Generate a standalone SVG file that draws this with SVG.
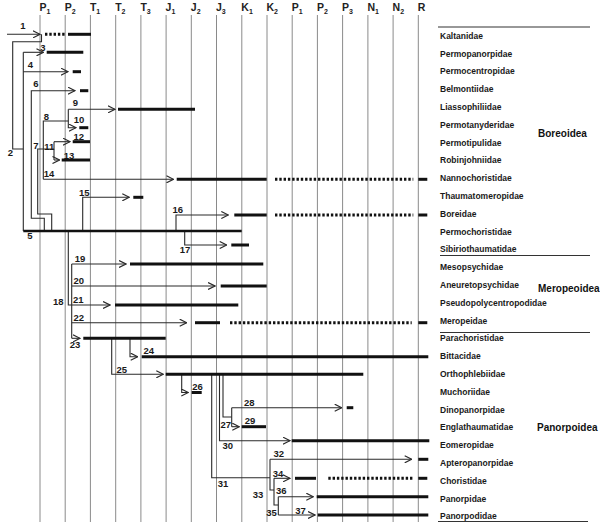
<svg xmlns="http://www.w3.org/2000/svg" width="600" height="525" viewBox="0 0 600 525">
<style>
.grid line{stroke:#8a8a8a;stroke-width:1}
.hd{font-family:"Liberation Sans",Arial,sans-serif;font-weight:bold;font-size:10.5px;fill:#222}
.hd tspan{font-size:7px}
.fam{font-family:"Liberation Sans",Arial,sans-serif;font-weight:bold;font-size:8.5px;fill:#1a1a1a}
.grp{font-family:"Liberation Sans",Arial,sans-serif;font-weight:bold;font-size:10px;fill:#111}
.num{font-family:"Liberation Sans",Arial,sans-serif;font-weight:bold;font-size:9.5px;fill:#1a1a1a;text-anchor:middle}
.c{fill:none;stroke:#2a2a2a;stroke-width:1.1}
.a{marker-end:url(#ah)}
.bar{stroke:#111;stroke-width:3;fill:none}
.dot{stroke:#111;stroke-width:3;fill:none;stroke-dasharray:2.4 1.9}
.sep{stroke:#333;stroke-width:1.1}
</style>
<defs>
<marker id="ah" viewBox="0 0 8 8" markerUnits="userSpaceOnUse" markerWidth="8" markerHeight="8" refX="7.5" refY="4" orient="auto">
<path d="M0.5,0.5 L7.5,4 L0.5,7.5" fill="none" stroke="#2a2a2a" stroke-width="1.2"/>
</marker>
</defs>
<rect width="600" height="525" fill="#fff"/>
<g id="timescale" class="grid">
<line x1="40" y1="15" x2="40" y2="522"/>
<line x1="65.2" y1="15" x2="65.2" y2="522"/>
<line x1="90.4" y1="15" x2="90.4" y2="522"/>
<line x1="115.7" y1="15" x2="115.7" y2="522"/>
<line x1="140.9" y1="15" x2="140.9" y2="522"/>
<line x1="166.1" y1="15" x2="166.1" y2="522"/>
<line x1="191.3" y1="15" x2="191.3" y2="522"/>
<line x1="216.5" y1="15" x2="216.5" y2="522"/>
<line x1="241.8" y1="15" x2="241.8" y2="522"/>
<line x1="267" y1="15" x2="267" y2="522"/>
<line x1="292.2" y1="15" x2="292.2" y2="522"/>
<line x1="317.4" y1="15" x2="317.4" y2="522"/>
<line x1="342.6" y1="15" x2="342.6" y2="522"/>
<line x1="367.9" y1="15" x2="367.9" y2="522"/>
<line x1="393.1" y1="15" x2="393.1" y2="522"/>
<line x1="418.3" y1="15" x2="418.3" y2="522"/>
</g>
<g id="headers">
<text class="hd" x="39.5" y="11">P<tspan dy="2.5">1</tspan></text>
<text class="hd" x="64.7" y="11">P<tspan dy="2.5">2</tspan></text>
<text class="hd" x="89.9" y="11">T<tspan dy="2.5">1</tspan></text>
<text class="hd" x="115.2" y="11">T<tspan dy="2.5">2</tspan></text>
<text class="hd" x="140.4" y="11">T<tspan dy="2.5">3</tspan></text>
<text class="hd" x="165.6" y="11">J<tspan dy="2.5">1</tspan></text>
<text class="hd" x="190.8" y="11">J<tspan dy="2.5">2</tspan></text>
<text class="hd" x="216" y="11">J<tspan dy="2.5">3</tspan></text>
<text class="hd" x="241.3" y="11">K<tspan dy="2.5">1</tspan></text>
<text class="hd" x="266.5" y="11">K<tspan dy="2.5">2</tspan></text>
<text class="hd" x="291.7" y="11">P<tspan dy="2.5">1</tspan></text>
<text class="hd" x="316.9" y="11">P<tspan dy="2.5">2</tspan></text>
<text class="hd" x="342.1" y="11">P<tspan dy="2.5">3</tspan></text>
<text class="hd" x="367.4" y="11">N<tspan dy="2.5">1</tspan></text>
<text class="hd" x="392.6" y="11">N<tspan dy="2.5">2</tspan></text>
<text class="hd" x="417.8" y="11">R</text>
</g>
<g id="connectors">
<path class="c a" d="M7,34.3 H40"/>
<path class="c" d="M41.5,34.3 V41.7 H12.7 V149 H23.3"/>
<path class="c" d="M23.3,52.3 V231"/>
<path class="c a" d="M23.3,52.3 H43.5"/>
<path class="c a" d="M23.3,71.7 H68"/>
<path class="c a" d="M44.3,231 V218.3 H31.3 V90.7 H75"/>
<path class="c" d="M51.7,231 V214 H37.7 V149 H54"/>
<path class="c" d="M43.3,179.3 V121 H68.3"/>
<path class="c a" d="M68.3,109.3 V127.7 H76"/>
<path class="c a" d="M68.3,109.3 H115"/>
<path class="c" d="M54,141.7 V160"/>
<path class="c a" d="M54,141.7 H70"/>
<path class="c a" d="M54,160 H59.5"/>
<path class="c a" d="M43.3,179.3 H173.5"/>
<path class="c a" d="M82.7,231 V197.3 H129.3"/>
<path class="c a" d="M176,231 V215 H228.3"/>
<path class="c a" d="M184.7,231 V245 H226.7"/>
<path class="c a" d="M68.3,231 V305 H110"/>
<path class="c" d="M71.7,264 V338.3"/>
<path class="c a" d="M71.7,264 H126"/>
<path class="c a" d="M71.7,286 H215"/>
<path class="c a" d="M71.7,322.7 H186.7"/>
<path class="c a" d="M71.7,338.3 H80"/>
<path class="c a" d="M130,338.3 V356.7 H137.7"/>
<path class="c a" d="M111.7,338.3 V374.3 H163.3"/>
<path class="c a" d="M181.7,374.3 V392.5 H188.3"/>
<path class="c" d="M223,374.3 V417 H231.7"/>
<path class="c" d="M231.7,407.7 V426.7"/>
<path class="c a" d="M231.7,407.7 H341.7"/>
<path class="c a" d="M231.7,426.7 H239.3"/>
<path class="c a" d="M219.5,374.3 V440.7 H290"/>
<path class="c" d="M211.7,374.3 V477.8 H270"/>
<path class="c" d="M270,459.3 V490 H274"/>
<path class="c a" d="M270,459.3 H411.7"/>
<path class="c" d="M274,478.3 V505 H278.3"/>
<path class="c a" d="M274,478.3 H290"/>
<path class="c" d="M278.3,496.7 V515"/>
<path class="c a" d="M278.3,496.7 H313.3"/>
<path class="c a" d="M278.3,515 H315"/>
</g>
<g id="node-numbers">
<text class="num" x="23" y="29.3">1</text>
<text class="num" x="10.5" y="156.3">2</text>
<text class="num" x="43" y="51.3">3</text>
<text class="num" x="30.5" y="68.3">4</text>
<text class="num" x="30" y="239.3">5</text>
<text class="num" x="36" y="87.3">6</text>
<text class="num" x="36" y="148.6">7</text>
<text class="num" x="46.3" y="119.6">8</text>
<text class="num" x="75.5" y="106">9</text>
<text class="num" x="79" y="123.3">10</text>
<text class="num" x="49.3" y="150">11</text>
<text class="num" x="78.7" y="140">12</text>
<text class="num" x="69" y="159.3">13</text>
<text class="num" x="49" y="176.6">14</text>
<text class="num" x="84.3" y="196">15</text>
<text class="num" x="177.7" y="213.3">16</text>
<text class="num" x="185" y="252.6">17</text>
<text class="num" x="58.3" y="305.3">18</text>
<text class="num" x="80" y="261.6">19</text>
<text class="num" x="78.7" y="284">20</text>
<text class="num" x="78.3" y="302.6">21</text>
<text class="num" x="78.7" y="321">22</text>
<text class="num" x="75" y="347.6">23</text>
<text class="num" x="148.7" y="354">24</text>
<text class="num" x="121.7" y="372.6">25</text>
<text class="num" x="197.5" y="390">26</text>
<text class="num" x="225.8" y="428">27</text>
<text class="num" x="249.3" y="405.6">28</text>
<text class="num" x="250" y="424">29</text>
<text class="num" x="227.8" y="449.3">30</text>
<text class="num" x="223" y="487">31</text>
<text class="num" x="278.7" y="456.6">32</text>
<text class="num" x="258" y="498.3">33</text>
<text class="num" x="278" y="477.3">34</text>
<text class="num" x="271.5" y="515.6">35</text>
<text class="num" x="281.2" y="494">36</text>
<text class="num" x="300.5" y="514">37</text>
</g>
<g id="Kaltanidae"><path class="dot" d="M45,34.3 H65"/><path class="bar" d="M68,34.3 H91"/><text class="fam" x="440" y="38.7">Kaltanidae</text></g>
<g id="Permopanorpidae"><path class="bar" d="M46.7,52.3 H83.3"/><text class="fam" x="440" y="56.5">Permopanorpidae</text></g>
<g id="Permocentropidae"><path class="bar" d="M72.7,71.7 H81"/><text class="fam" x="440" y="74.3">Permocentropidae</text></g>
<g id="Belmontiidae"><path class="bar" d="M80,90.7 H88.3"/><text class="fam" x="440" y="92.1">Belmontiidae</text></g>
<g id="Liassophiliidae"><path class="bar" d="M118,109.3 H195"/><text class="fam" x="440" y="109.9">Liassophiliidae</text></g>
<g id="Permotanyderidae"><path class="bar" d="M79.3,127.7 H88.3"/><text class="fam" x="440" y="127.7">Permotanyderidae</text></g>
<g id="Permotipulidae"><path class="bar" d="M72.7,141.7 H90"/><text class="fam" x="440" y="145.5">Permotipulidae</text></g>
<g id="Robinjohniidae"><path class="bar" d="M61.7,160 H90"/><text class="fam" x="440" y="163.3">Robinjohniidae</text></g>
<g id="Nannochoristidae"><path class="bar" d="M176.7,179.3 H266.7"/><path class="dot" d="M275,179.3 H413.3"/><path class="bar" d="M418.3,179.3 H427.3"/><text class="fam" x="440" y="181.1">Nannochoristidae</text></g>
<g id="Thaumatomeropidae"><path class="bar" d="M133.3,197.3 H143.3"/><text class="fam" x="440" y="198.9">Thaumatomeropidae</text></g>
<g id="Boreidae"><path class="bar" d="M234.3,215 H266.7"/><path class="dot" d="M275,215 H413.3"/><path class="bar" d="M418.3,215 H427.3"/><text class="fam" x="440" y="216.7">Boreidae</text></g>
<g id="Permochoristidae"><path class="bar" d="M23.3,231 H241.7" style="stroke-width:2.6"/><text class="fam" x="440" y="234.5">Permochoristidae</text></g>
<g id="Sibiriothaumatidae"><path class="bar" d="M231.3,245 H249"/><text class="fam" x="440" y="252.3">Sibiriothaumatidae</text></g>
<g id="Mesopsychidae"><path class="bar" d="M130,264 H263.3"/><text class="fam" x="440" y="270.1">Mesopsychidae</text></g>
<g id="Aneuretopsychidae"><path class="bar" d="M220.7,286 H266.7"/><text class="fam" x="440" y="287.9">Aneuretopsychidae</text></g>
<g id="Pseudopolycentropodidae"><path class="bar" d="M115,305 H238.3"/><text class="fam" x="440" y="305.7">Pseudopolycentropodidae</text></g>
<g id="Meropeidae"><path class="bar" d="M195,322.7 H220"/><path class="dot" d="M230,322.7 H411.7"/><path class="bar" d="M418.3,322.7 H427.3"/><text class="fam" x="440" y="323.5">Meropeidae</text></g>
<g id="Parachoristidae"><path class="bar" d="M83.3,338.3 H165.7"/><text class="fam" x="440" y="341.3">Parachoristidae</text></g>
<g id="Bittacidae"><path class="bar" d="M141.7,356.7 H428.3"/><text class="fam" x="440" y="359.1">Bittacidae</text></g>
<g id="Orthophlebiidae"><path class="bar" d="M165.7,374.3 H363.3"/><text class="fam" x="440" y="376.9">Orthophlebiidae</text></g>
<g id="Muchoriidae"><path class="bar" d="M191.7,392.5 H201.7"/><text class="fam" x="440" y="394.7">Muchoriidae</text></g>
<g id="Dinopanorpidae"><path class="bar" d="M346.7,407.7 H353.3"/><text class="fam" x="440" y="412.5">Dinopanorpidae</text></g>
<g id="Englathaumatidae"><path class="bar" d="M241.7,426.7 H266"/><text class="fam" x="440" y="430.3">Englathaumatidae</text></g>
<g id="Eomeropidae"><path class="bar" d="M291.7,440.7 H429.3"/><text class="fam" x="440" y="448.1">Eomeropidae</text></g>
<g id="Apteropanorpidae"><path class="bar" d="M418.3,459.3 H428.3"/><text class="fam" x="440" y="465.9">Apteropanorpidae</text></g>
<g id="Choristidae"><path class="bar" d="M295,478.3 H316"/><path class="dot" d="M328.3,478.3 H412.7"/><path class="bar" d="M418.3,478.3 H427.3"/><text class="fam" x="440" y="483.7">Choristidae</text></g>
<g id="Panorpidae"><path class="bar" d="M316.7,496.7 H428.3"/><text class="fam" x="440" y="501.5">Panorpidae</text></g>
<g id="Panorpodidae"><path class="bar" d="M317.7,515 H428.3"/><text class="fam" x="440" y="519.3">Panorpodidae</text></g>
<g id="superfamilies">
<line class="sep" x1="438" y1="27" x2="590" y2="27"/>
<line class="sep" x1="440" y1="255.5" x2="590" y2="255.5"/>
<line class="sep" x1="440" y1="332.5" x2="590" y2="332.5"/>
<line class="sep" x1="438" y1="521.5" x2="588" y2="521.5"/>
<text class="grp" x="538" y="136.5">Boreoidea</text>
<text class="grp" x="538" y="291.5">Meropeoidea</text>
<text class="grp" x="537" y="430.5">Panorpoidea</text>
</g>
</svg>
